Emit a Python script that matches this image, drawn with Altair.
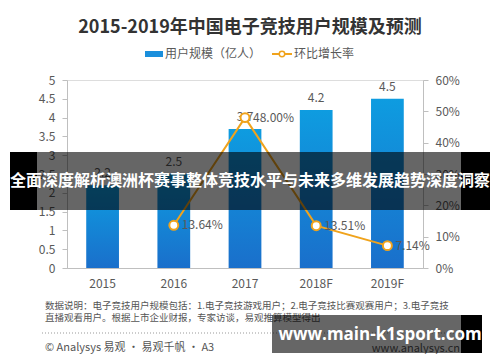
import altair as alt
import pandas as pd

years = ["2015", "2016", "2017", "2018F", "2019F"]
users = [2.2, 2.5, 3.7, 4.2, 4.5]
growth = [None, 0.1364, 0.48, 0.1351, 0.0714]
growth_labels = ["", "13.64%", "48.00%", "13.51%", "7.14%"]
left_ticks = [0, 0.5, 1, 1.5, 2, 2.5, 3, 3.5, 4, 4.5, 5]
right_ticks = [0, 0.1, 0.2, 0.3, 0.4, 0.5, 0.6]

title_text = "2015-2019年中国电子竞技用户规模及预测"
legend_bar = "用户规模（亿人）"
legend_line = "环比增长率"
banner_text = "全面深度解析澳洲杯赛事整体竞技水平与未来多维发展趋势深度洞察"
note1 = "数据说明：电子竞技用户规模包括：1.电子竞技游戏用户；2.电子竞技比赛观赛用户；3.电子竞技"
note2 = "直播观看用户。根据上市企业财报，专家访谈，易观推算模型得出"
copyright_text = "© Analysys 易观 · 易观千帆 · A3"
site_text = "www.analysys.cn"
wm_text = "www.main-k1sport.com"

df = pd.DataFrame({"year": years, "users": users, "growth": growth, "glabel": growth_labels})

FONT = "Noto Sans CJK SC"
ORANGE = "#f0a31c"
AX = "#bfbfbf"
LBL = "#595959"

xscale = alt.Scale(domain=years, paddingInner=0.54, paddingOuter=0.27)
xaxis = alt.Axis(title=None, labelAngle=0, ticks=False, domainColor=AX,
                 labelColor=LBL, labelFontSize=12, labelFont=FONT, labelPadding=10)
X = alt.X("year:N", scale=xscale, axis=xaxis)

yl_scale = alt.Scale(domain=[0, 5], nice=False)
yl_axis = alt.Axis(title=None, values=left_ticks, format="~g", grid=False, domainColor=AX,
                   tickColor=AX, tickSize=5, labelOverlap=False, labelColor=LBL,
                   labelFontSize=12, labelFont=FONT, labelPadding=7)
YL = alt.Y("users:Q", scale=yl_scale, axis=yl_axis)

yr_scale = alt.Scale(domain=[0, 0.6], nice=False)
yr_axis = alt.Axis(title=None, orient="right", values=right_ticks, format=".0%", grid=False,
                   domainColor=AX, tickColor=AX, tickSize=5, labelOverlap=False, labelColor=LBL,
                   labelFontSize=12, labelFont=FONT, labelPadding=7)
YR = alt.Y("growth:Q", scale=yr_scale, axis=yr_axis)

base = alt.Chart(df)

bars = base.mark_bar(
    color=alt.Gradient(gradient="linear", x1=0, x2=0, y1=0, y2=1,
                       stops=[alt.GradientStop(color="#0e9ce0", offset=0),
                              alt.GradientStop(color="#1a6fcb", offset=1)])
).encode(x=X, y=YL)

bar_labels = base.mark_text(baseline="bottom", dy=-5, fontSize=12, font=FONT, color=LBL).encode(
    x=X, y=YL, text=alt.Text("users:Q", format=".1f"))

lbase = base.transform_filter("datum.growth != null")
line = lbase.mark_line(color=ORANGE, strokeWidth=2).encode(x=X, y=YR)
pts = lbase.mark_point(filled=True, fill="white", stroke=ORANGE, strokeWidth=2, size=80, opacity=1).encode(
    x=X, y=YR)
plabels = lbase.mark_text(align="left", baseline="middle", dx=8, fontSize=12, font=FONT, color=LBL).encode(
    x=X, y=YR, text="glabel:N")

# decorations (pixel positions relative to plot area)
one = pd.DataFrame({"k": [0]})
deco = alt.Chart(one)

def txt(s, x, y, size, color, weight="normal", align="left", font=FONT):
    return deco.mark_text(text=s, fontSize=size, font=font, color=color, fontWeight=weight,
                          align=align, baseline="middle").encode(x=alt.value(x), y=alt.value(y))

def rect(x, x2, y, y2, color, opacity=1.0):
    return deco.mark_rect(color=color, opacity=opacity).encode(
        x=alt.value(x), x2=alt.value(x2), y=alt.value(y), y2=alt.value(y2))

title = txt(title_text, 183, -52, 18, "#333333", weight="bold", align="center")
leg_rect = rect(78, 96, -29, -23, "#1a8fdc")
leg_t1 = txt(legend_bar, 98, -26, 12, LBL)
leg_line = deco.mark_rule(color=ORANGE, strokeWidth=2).encode(
    x=alt.value(205), x2=alt.value(225), y=alt.value(-26))
leg_pt = deco.mark_point(filled=True, fill="white", stroke=ORANGE, strokeWidth=1.5, size=30, opacity=1).encode(
    x=alt.value(215), y=alt.value(-26))
leg_t2 = txt(legend_line, 227, -26, 12, LBL)

n1 = txt(note1, -22, 226, 9.5, "#555555")
n2 = txt(note2, -22, 238, 9.5, "#555555")
dots = deco.mark_rule(color="#999999", strokeWidth=1, strokeDash=[1, 2]).encode(
    x=alt.value(-25), x2=alt.value(393), y=alt.value(253))
cp = txt(copyright_text, -22, 268, 11, "#555555")
site = txt(site_text, 393, 269, 11, "#555555", align="right")

ban_l = rect(-57, -30, 72, 130, "black")
ban_m = rect(-30, 394, 72, 130, "black", 0.6)
ban_r = rect(394, 423, 72, 130, "black")
ban_t = txt(banner_text, 183, 101, 16, "white", weight="bold", align="center")

wm_m = rect(205, 394, 235, 273, "black", 0.6)
wm_r = rect(394, 415, 235, 273, "black")
wm_t = txt(wm_text, 313, 255, 17, "white", weight="bold", align="center", font="Open Sans")

left = alt.layer(bars, bar_labels, title, leg_rect, leg_t1, leg_line, leg_pt, leg_t2,
                 n1, n2, dots, cp, site)
right = alt.layer(line, pts, plabels, ban_l, ban_m, ban_r, ban_t, wm_m, wm_r, wm_t)

chart = alt.layer(left, right).resolve_scale(y="independent").properties(
    width=356, height=188,
    autosize=alt.AutoSizeParams(type="none"),
    padding={"left": 59, "top": 72, "right": 69, "bottom": 86},
).configure_view(stroke=None).configure(background="white")

chart.save("out.html", embed_options={"renderer": "svg", "actions": False})
